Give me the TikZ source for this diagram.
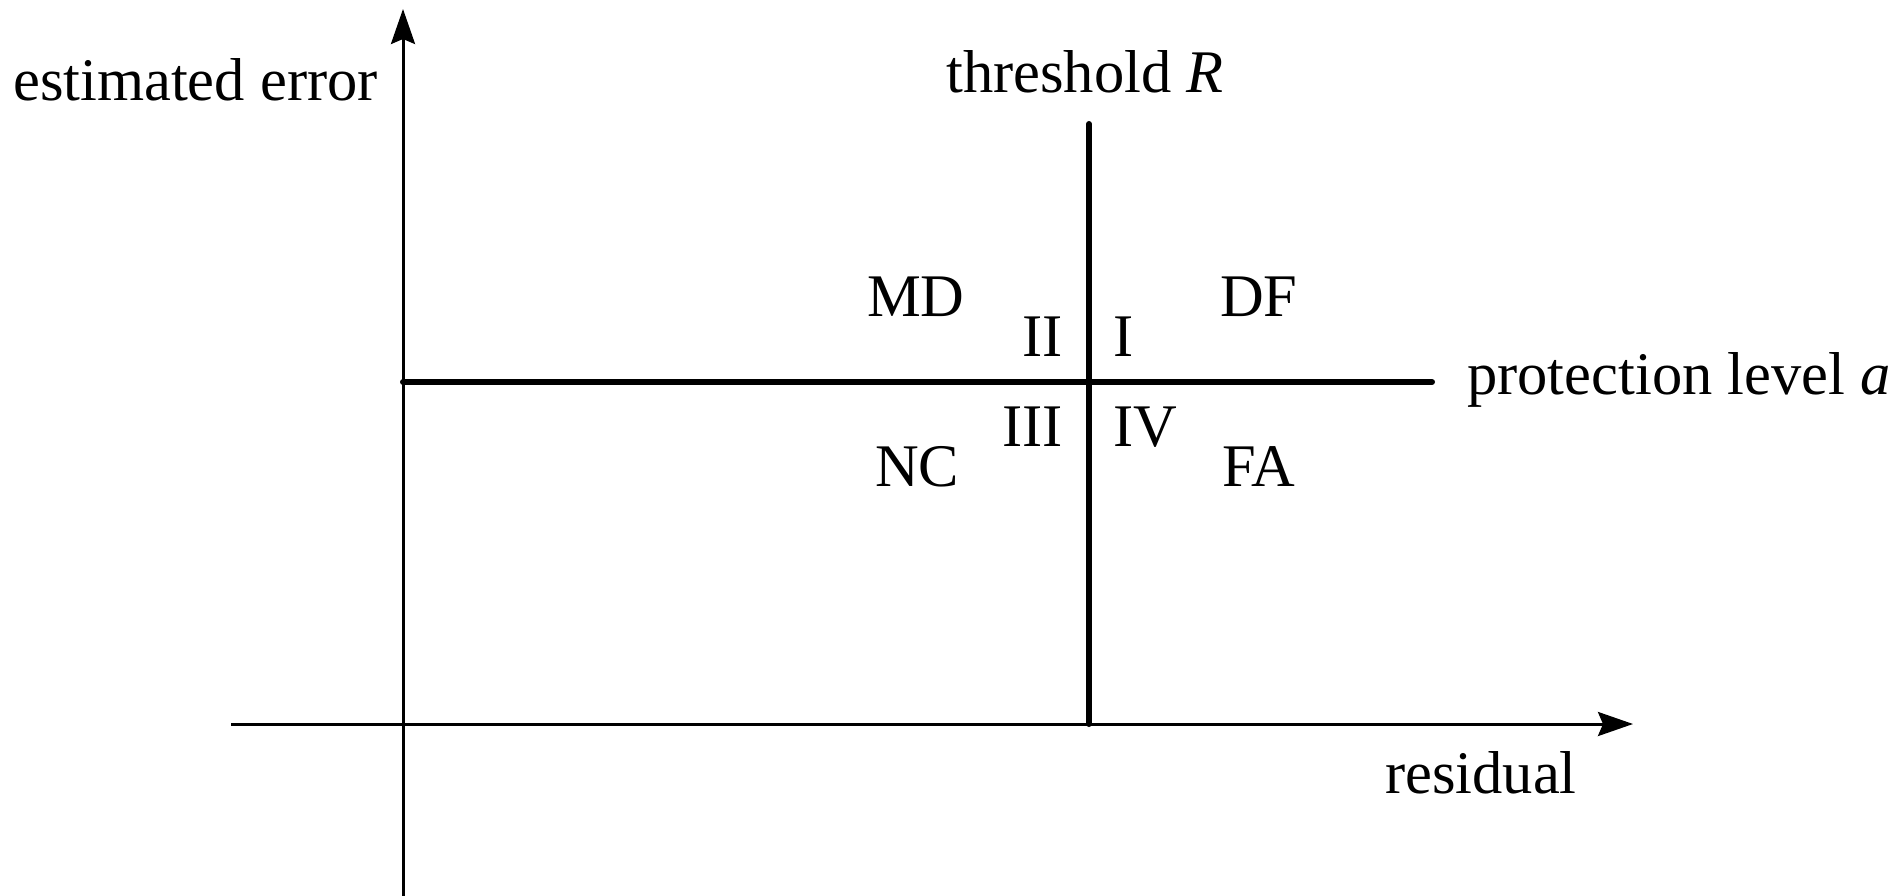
\documentclass[tikz,border=0pt]{standalone}
\usepackage{fontspec}
\setmainfont{Liberation Serif}
\usetikzlibrary{arrows.meta}
\begin{document}
\begin{tikzpicture}[x=1pt,y=-1pt,
  lbl/.style={anchor=base west,inner sep=0pt,font=\fontsize{60.5}{72}\selectfont},
  axisline/.style={line width=3pt,-{Stealth[length=35pt,width=24pt,inset=5pt]}},
  boundary/.style={line width=6pt,line cap=round}]
\useasboundingbox (0,0) rectangle (1903,896);
% axes
\coordinate (yb) at (403,896);
\coordinate (yt) at (403,9);
\coordinate (xl) at (231,724);
\coordinate (xr) at (1633,724);
\draw[axisline] (yb) -- (yt);
\draw[axisline] (xl) -- (xr);
% boundaries
\coordinate (vt) at (1089,124);
\coordinate (vb) at (1089,724);
\coordinate (hl) at (403,382);
\coordinate (hr) at (1432,382);
\draw[boundary] (vt) -- (vb);
\draw[boundary] (hl) -- (hr);
% labels
\node[lbl] (ee) at (13,101) {estimated error};
\node[lbl] (thr) at (946,93) {threshold \textit{R}};
\node[lbl] (pl) at (1467,394) {protection level \textit{a}};
\node[lbl] (res) at (1385,793) {residual};
\node[lbl] (md) at (867,316) {MD};
\node[lbl] (df) at (1220,316) {DF};
\node[lbl] (q2) at (1022,356) {II};
\node[lbl] (q1) at (1113,356) {I};
\node[lbl] (q3) at (1002,446) {III};
\node[lbl] (q4) at (1113,446) {IV};
\node[lbl] (nc) at (875,486) {NC};
\node[lbl] (fa) at (1222,486) {FA};
\end{tikzpicture}
\end{document}
